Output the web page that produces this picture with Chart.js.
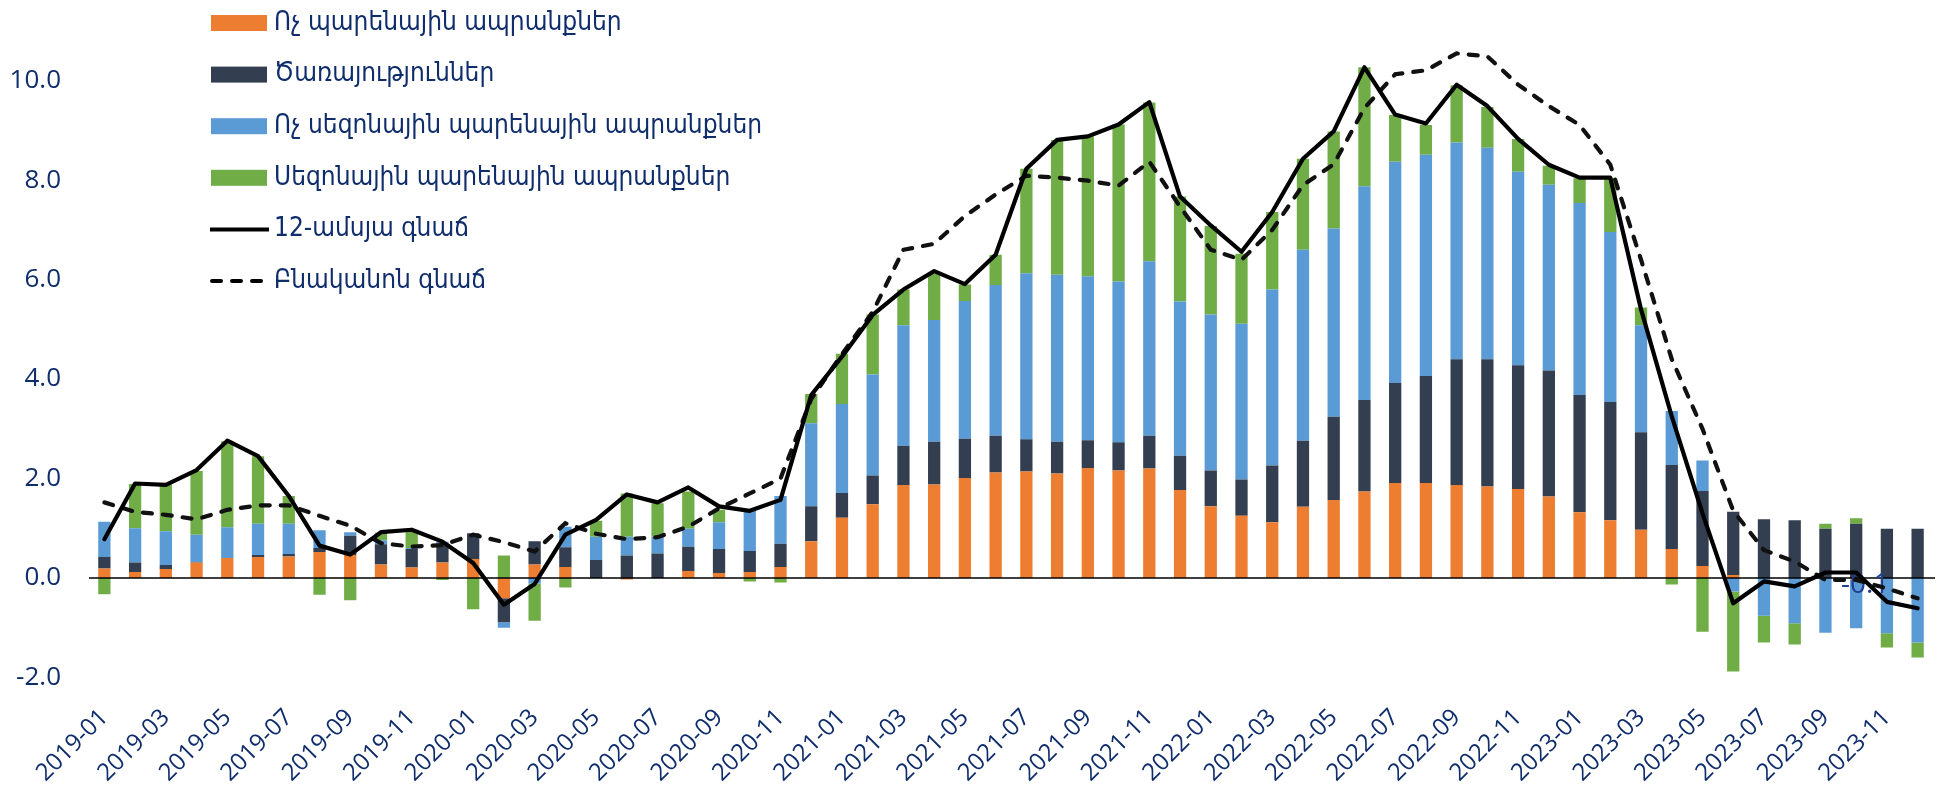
<!DOCTYPE html>
<html><head><meta charset="utf-8">
<script src="https://cdn.jsdelivr.net/npm/chart.js@4.4.1/dist/chart.umd.min.js"></script>
<style>html,body{margin:0;padding:0;background:#fff;}#wrap{width:1944px;height:793px;}</style>
</head><body><div id="wrap"><canvas id="c" width="1944" height="793"></canvas></div>
<script>
const categories = [
 '2019-01','2019-02','2019-03','2019-04','2019-05','2019-06','2019-07','2019-08','2019-09','2019-10','2019-11','2019-12',
 '2020-01','2020-02','2020-03','2020-04','2020-05','2020-06','2020-07','2020-08','2020-09','2020-10','2020-11','2020-12',
 '2021-01','2021-02','2021-03','2021-04','2021-05','2021-06','2021-07','2021-08','2021-09','2021-10','2021-11','2021-12',
 '2022-01','2022-02','2022-03','2022-04','2022-05','2022-06','2022-07','2022-08','2022-09','2022-10','2022-11','2022-12',
 '2023-01','2023-02','2023-03','2023-04','2023-05','2023-06','2023-07','2023-08','2023-09','2023-10','2023-11','2023-12'];

const nonFoodGoods = [
 0.19,0.12,0.18,0.31,0.40,0.42,0.43,0.52,0.46,0.27,
 0.21,0.31,0.38,-0.41,0.27,0.22,0.00,-0.03,0.00,0.14,
 0.10,0.12,0.22,0.74,1.21,1.48,1.87,1.88,2.01,2.12,
 2.14,2.10,2.21,2.16,2.20,1.77,1.44,1.25,1.12,1.43,
 1.57,1.74,1.91,1.91,1.87,1.84,1.79,1.64,1.32,1.16,
 0.97,0.58,0.24,0.06,0.00,0.00,0.00,-0.03,0.00,0.00];
const services = [
 0.23,0.19,0.08,0.01,0.00,0.04,0.05,0.08,0.39,0.41,
 0.37,0.35,0.52,-0.48,0.47,0.40,0.36,0.45,0.49,0.49,
 0.48,0.42,0.47,0.70,0.50,0.58,0.79,0.86,0.79,0.74,
 0.65,0.64,0.56,0.57,0.66,0.69,0.72,0.73,1.14,1.33,
 1.67,1.84,2.01,2.15,2.53,2.56,2.49,2.53,2.36,2.38,
 1.96,1.69,1.51,1.27,1.18,1.16,0.99,1.09,0.99,0.99];
const nonSeasonalFood = [
 0.71,0.69,0.68,0.55,0.62,0.63,0.61,0.36,0.07,0.08,
 0.02,0.07,0.00,-0.11,-0.11,0.41,0.47,0.38,0.34,0.36,
 0.54,0.83,0.96,1.67,1.79,2.03,2.42,2.45,2.77,3.03,
 3.34,3.36,3.30,3.23,3.51,3.10,3.14,3.13,3.54,3.84,
 3.79,4.30,4.45,4.45,4.36,4.25,3.89,3.74,3.86,3.42,
 2.15,1.09,0.61,-0.27,-0.76,-0.91,-1.10,-0.98,-1.11,-1.30];
const seasonalFood = [
 -0.33,0.89,0.94,1.28,1.73,1.36,0.56,-0.34,-0.45,0.15,
 0.33,-0.04,-0.63,0.45,-0.75,-0.19,0.32,0.87,0.67,0.75,
 0.25,-0.07,-0.09,0.59,1.01,1.21,0.72,0.93,0.33,0.61,
 2.10,2.71,2.81,3.16,3.19,2.11,1.78,1.41,1.56,1.83,
 1.95,2.39,0.94,0.60,1.15,0.82,0.66,0.38,0.50,1.09,
 0.36,-0.13,-1.08,-1.61,-0.54,-0.43,0.10,0.11,-0.29,-0.30];
const headline12m = [
 0.78,1.90,1.87,2.17,2.76,2.45,1.65,0.65,0.47,0.92,
 0.97,0.73,0.30,-0.54,-0.12,0.87,1.17,1.68,1.52,1.82,
 1.44,1.35,1.57,3.68,4.45,5.29,5.80,6.17,5.91,6.50,
 8.23,8.81,8.88,9.12,9.57,7.67,7.09,6.56,7.36,8.43,
 8.98,10.27,9.32,9.14,9.92,9.49,8.83,8.31,8.05,8.05,
 5.40,3.25,1.30,-0.51,-0.07,-0.17,0.11,0.11,-0.48,-0.61];
const coreInflation = [
 1.52,1.33,1.27,1.18,1.37,1.46,1.46,1.25,1.05,0.70,
 0.63,0.66,0.87,0.72,0.53,1.10,0.89,0.78,0.82,1.03,
 1.40,1.70,2.00,3.60,4.50,5.35,6.60,6.72,7.28,7.71,
 8.09,8.05,7.99,7.89,8.37,7.47,6.60,6.40,7.00,7.90,
 8.32,9.45,10.13,10.21,10.55,10.49,9.92,9.49,9.11,8.31,
 6.40,4.40,3.00,1.35,0.56,0.33,-0.04,-0.04,-0.21,-0.41];

const seriesNames = ['Ոչ պարենային ապրանքներ','Ծառայություններ','Ոչ սեզոնային պարենային ապրանքներ','Սեզոնային պարենային ապրանքներ','12-ամսյա գնաճ','Բնականոն գնաճ'];
const yTickValues = [-2,0,2,4,6,8,10];
const coreLabelIndex = 57;
const coreLabelText = '-0.1';

const TEXT = '#0F2D6B';
const NUMFONT = "'Open Sans','DejaVu Sans',sans-serif";
const LEGFONT = "'DejaVu Sans Condensed','DejaVu Sans',sans-serif";
const COLORS = ['#ED7D31','#333F50','#5B9BD5','#70AD47'];

const overlayPlugin = {
  id: 'overlay',
  beforeDatasetDraw(chart, args) {
    if (args.index !== 1) return;
    const ctx = chart.ctx, y = chart.scales.y, a = chart.chartArea;
    const y0 = y.getPixelForValue(0);
    ctx.save();
    ctx.strokeStyle = '#000'; ctx.lineWidth = 1.5;
    ctx.beginPath(); ctx.moveTo(a.left, y0); ctx.lineTo(a.right + 2, y0); ctx.stroke();
    const p = chart.getDatasetMeta(1).data[coreLabelIndex];
    ctx.fillStyle = '#1F3F8F';
    ctx.font = "28px " + NUMFONT;
    ctx.textAlign = 'center'; ctx.textBaseline = 'middle';
    ctx.fillText(coreLabelText, p.x + 9, p.y + 5);
    ctx.restore();
  },
  afterDraw(chart) {
    const ctx = chart.ctx;
    ctx.save();
    ctx.font = "26px " + LEGFONT;
    ctx.textBaseline = 'middle'; ctx.textAlign = 'left';
    const y0 = 23, step = 51.6;
    for (let i = 0; i < 6; i++) {
      const yc = y0 + i * step;
      if (i < 4) {
        ctx.fillStyle = COLORS[i];
        ctx.fillRect(211, yc - 8, 56, 16);
      } else {
        ctx.strokeStyle = '#000'; ctx.lineWidth = 4;
        ctx.lineCap = i === 4 ? 'butt' : 'round';
        ctx.setLineDash(i === 4 ? [] : [9, 11]);
        ctx.beginPath(); ctx.moveTo(i === 4 ? 210 : 212, yc); ctx.lineTo(269, yc); ctx.stroke();
        ctx.setLineDash([]);
      }
      ctx.fillStyle = TEXT;
      ctx.fillText(seriesNames[i], 274, yc);
    }
    ctx.restore();
  }
};

const barDs = (i, data) => ({
  type: 'bar', label: seriesNames[i], data, backgroundColor: COLORS[i],
  borderWidth: 0, stack: 'bars', barPercentage: 0.4, categoryPercentage: 1.0
});

new Chart(document.getElementById('c'), {
  data: {
    labels: categories,
    datasets: [
      { type: 'line', label: seriesNames[4], data: headline12m, borderColor: '#000', borderWidth: 4.2,
        pointRadius: 0, tension: 0, stack: 'l1', borderJoinStyle: 'round', borderCapStyle: 'round', fill: false },
      { type: 'line', label: seriesNames[5], data: coreInflation, borderColor: '#111', borderWidth: 4.2,
        borderDash: [9, 11], borderCapStyle: 'round', pointRadius: 0, tension: 0, stack: 'l2', fill: false },
      barDs(0, nonFoodGoods), barDs(1, services), barDs(2, nonSeasonalFood), barDs(3, seasonalFood)
    ]
  },
  options: {
    responsive: false, animation: false, devicePixelRatio: 1,
    layout: { padding: { left: 10, right: 11, top: 31, bottom: 0 } },
    plugins: { legend: { display: false }, tooltip: { enabled: false } },
    scales: {
      x: {
        stacked: true,
        grid: { display: false, drawTicks: false }, border: { display: false },
        ticks: {
          autoSkip: false, maxRotation: 45, minRotation: 45, padding: 26,
          color: TEXT, font: { family: NUMFONT, size: 24 },
          callback: (v, i) => (i % 2 === 0 ? categories[i] : '')
        },
        afterFit: s => { s.height = 115.6; s.paddingLeft = 0; s.paddingRight = 0; }
      },
      y: {
        stacked: true, min: -2, max: 11,
        grid: { display: false, drawTicks: false }, border: { display: false },
        ticks: {
          stepSize: 2, padding: 28, color: TEXT, font: { family: NUMFONT, size: 26 },
          callback: v => (yTickValues.includes(v) ? v.toFixed(1) : '')
        },
        afterFit: s => { s.width = 79; s.paddingTop = 0; s.paddingBottom = 0; }
      }
    }
  },
  plugins: [overlayPlugin]
});
</script>
</body></html>
